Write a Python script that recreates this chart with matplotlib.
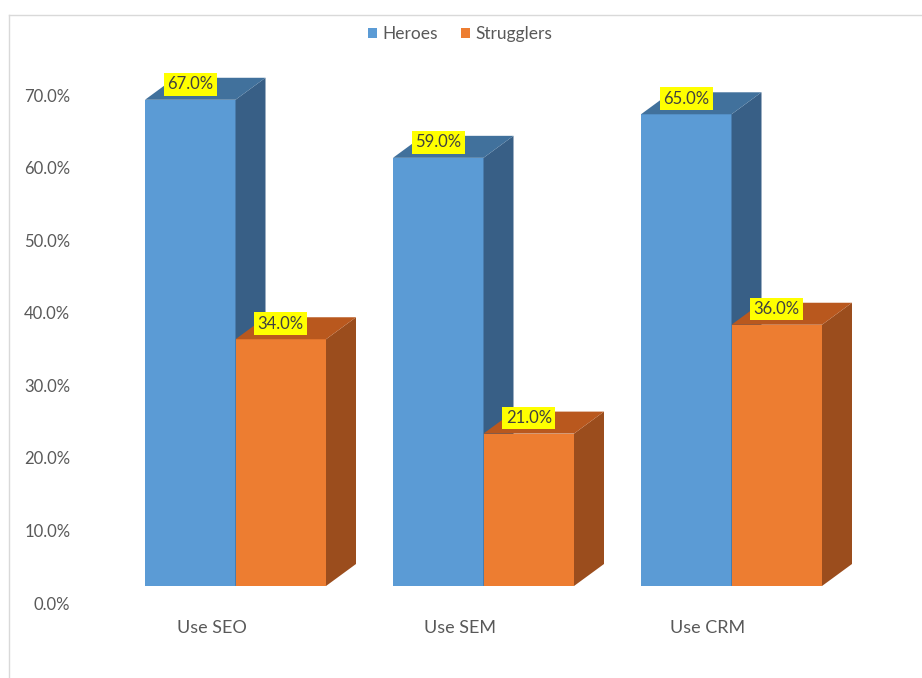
import numpy as np
import matplotlib.pyplot as plt
from matplotlib.patches import Polygon, Patch
from matplotlib.lines import Line2D

plt.rcParams['font.family'] = ['Lato', 'DejaVu Sans']

categories = ['Use SEO', 'Use SEM', 'Use CRM']
series_names = ['Heroes', 'Strugglers']
heroes = [67.0, 59.0, 65.0]
strugglers = [34.0, 21.0, 36.0]
yticks = [0, 10, 20, 30, 40, 50, 60, 70]

front_colors = ['#5B9BD5', '#ED7D31']
top_colors = ['#41719C', '#B9581E']
side_colors = ['#385F86', '#9B4D1D']

W, H = 922, 678
fig = plt.figure(figsize=(W / 100, H / 100), dpi=100)

# axes box chosen so 0% sits at y=603px and 70% at y=95px
px_per_unit = (603 - 95) / 70.0
ax_left, ax_right = 80, 922
ax_bottom = 603
y_top = 80
ax_h = y_top * px_per_unit
ax = fig.add_axes([ax_left / W, (H - ax_bottom) / H,
                   (ax_right - ax_left) / W, ax_h / H])
group_px = 248.0
x0 = 235.5
ax.set_xlim((ax_left - x0) / group_px, (ax_right - x0) / group_px)
ax.set_ylim(0, y_top)

# fake 3d geometry (in data units)
bar_w = 90.5 / group_px
base = 17 / px_per_unit
dx = 30 / group_px
dy = 22 / px_per_unit

x = np.arange(len(categories))
for k, vals in enumerate([heroes, strugglers]):
    for i, v in enumerate(vals):
        xl = x[i] - bar_w + k * bar_w
        xr = xl + bar_w
        top = base + v
        ax.add_patch(Polygon([(xl, base), (xr, base), (xr, top), (xl, top)],
                             closed=True, facecolor=front_colors[k],
                             edgecolor='none', clip_on=False))
        ax.add_patch(Polygon([(xr, base), (xr + dx, base + dy), (xr + dx, top + dy), (xr, top)],
                             closed=True, facecolor=side_colors[k],
                             edgecolor='none', clip_on=False))
        ax.add_patch(Polygon([(xl, top), (xl + dx, top + dy), (xr + dx, top + dy), (xr, top)],
                             closed=True, facecolor=top_colors[k],
                             edgecolor='none', clip_on=False))
        ax.text((xl + xr) / 2, top + 2.15, f'{v:.1f}%', ha='center', va='center',
                fontsize=12, color='#404040', clip_on=False,
                bbox=dict(boxstyle='square,pad=0.2', facecolor='#FFFF00', edgecolor='none'))

for i, c in enumerate(categories):
    ax.text(x[i] - 24 / group_px, -25 / px_per_unit, c, ha='center', va='center',
            fontsize=13, color='#595959', clip_on=False)

ax.set_yticks(yticks)
ax.set_yticklabels([f'{t:.1f}%' for t in yticks], fontsize=12, color='#595959')
ax.tick_params(axis='y', length=0, pad=7)
ax.set_xticks([])
for s in ax.spines.values():
    s.set_visible(False)
ax.patch.set_alpha(0)

handles = [Patch(facecolor=front_colors[k], label=series_names[k]) for k in range(2)]
fig.legend(handles=handles, loc='center', bbox_to_anchor=(460 / W, 1 - 34 / H), ncol=2,
           frameon=False, fontsize=12.5, handlelength=0.55, handleheight=0.55,
           handletextpad=0.3, columnspacing=1.3, labelcolor='#595959')

# chart area border (top and left visible)
fig.add_artist(Line2D([9 / W, 1], [1 - 15 / H, 1 - 15 / H], color='#D9D9D9', lw=1))
fig.add_artist(Line2D([9 / W, 9 / W], [0, 1 - 15 / H], color='#D9D9D9', lw=1))

fig.savefig('out.png', dpi=100)
